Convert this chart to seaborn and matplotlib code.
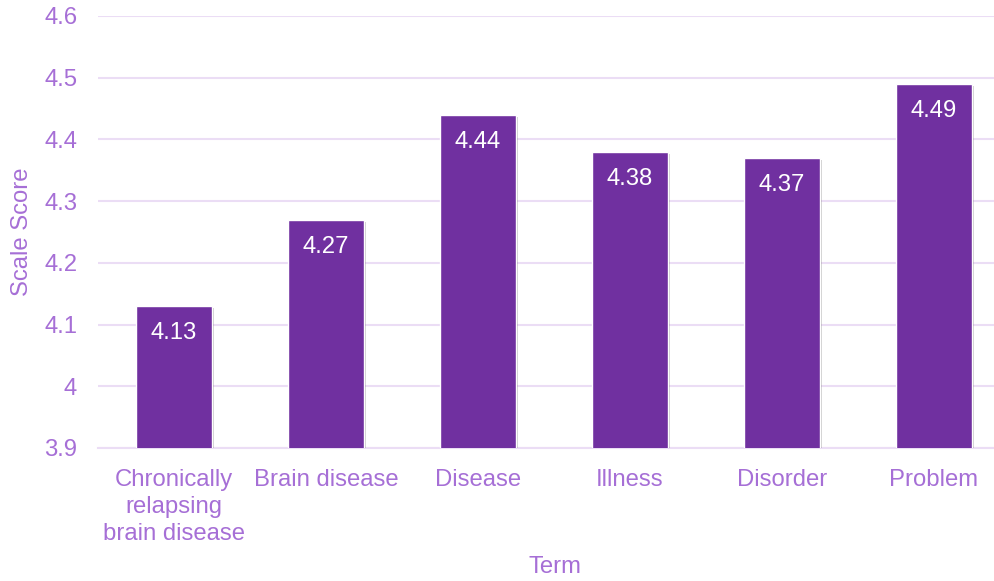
import matplotlib
matplotlib.use("Agg")
import matplotlib.pyplot as plt
import matplotlib.patheffects as pe
import seaborn as sns
import pandas as pd

terms = ["Chronically\nrelapsing\nbrain disease", "Brain disease", "Disease", "Illness", "Disorder", "Problem"]
scores = [4.13, 4.27, 4.44, 4.38, 4.37, 4.49]
yticks = [3.9, 4.0, 4.1, 4.2, 4.3, 4.4, 4.5, 4.6]
ytick_labels = ["3.9", "4", "4.1", "4.2", "4.3", "4.4", "4.5", "4.6"]

sns.set_theme(style="white")
plt.rcParams['font.family'] = ['Liberation Sans', 'DejaVu Sans']

bar_color = "#7030A0"
text_color = "#A66FD6"
grid_color = "#EBDDF5"
fs = 17.2

df = pd.DataFrame({"Term": terms, "Score": scores})

fig = plt.figure(figsize=(9.95, 5.81), dpi=100)
ax = fig.add_axes([98/995, 1 - 448/581, 912/995, (448 - 16)/581])

sns.barplot(data=df, x="Term", y="Score", color=bar_color, width=0.5, saturation=1, ax=ax, zorder=3)
ax.set_ylim(3.9, 4.6)
ax.set_yticks(yticks)
ax.set_yticklabels(ytick_labels)

for p in ax.patches:
    p.set_path_effects([pe.SimplePatchShadow(offset=(1.5, -1.5), shadow_rgbFace="black", alpha=0.2), pe.Normal()])

for i, v in enumerate(scores):
    ax.annotate(f"{v:.2f}", xy=(i, v), xytext=(0, -27), textcoords="offset pixels",
                ha="center", va="center", color="white", fontsize=fs, zorder=5)

ax.grid(axis="y", color=grid_color, linewidth=1.5, zorder=0)
ax.set_axisbelow(True)
for s in ["top", "right", "left"]:
    ax.spines[s].set_visible(False)
ax.spines["bottom"].set_color(grid_color)
ax.spines["bottom"].set_linewidth(1.5)

ax.tick_params(axis="both", length=0, colors=text_color, labelsize=fs)
ax.tick_params(axis="y", pad=15)
ax.tick_params(axis="x", pad=15)
for lbl in ax.get_xticklabels():
    lbl.set_linespacing(1.3)

ax.set_xlabel("")
ax.set_ylabel("")
fig.text(555/995, 1 - 567/581, "Term", color=text_color, fontsize=fs, ha="center", va="center")
fig.text(22/995, 1 - 232/581, "Scale Score", color=text_color, fontsize=fs, ha="center", va="center", rotation=90)

fig.savefig("out.png", dpi=100)
